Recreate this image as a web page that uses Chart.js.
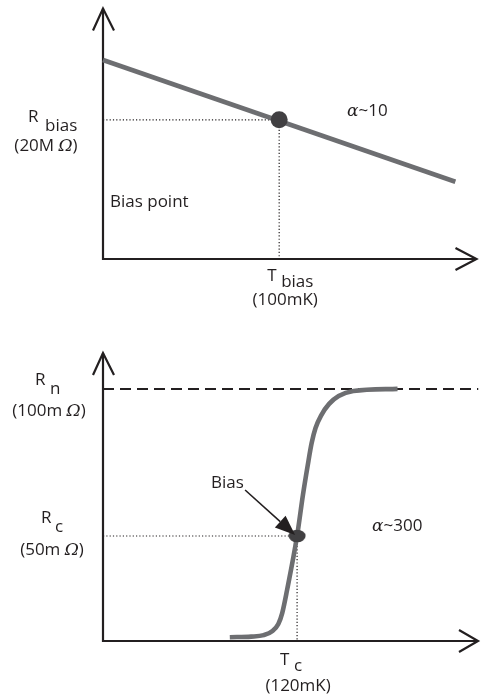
<!DOCTYPE html>
<html>
<head>
<meta charset="utf-8">
<script src="https://cdn.jsdelivr.net/npm/chart.js@4/dist/chart.umd.min.js"></script>
<style>
  html, body { margin: 0; padding: 0; background: #ffffff; }
  #wrap { position: relative; width: 485px; height: 696px; }
  #topPanel { position: absolute; left: 0; top: 0; }
  #tesPanel { position: absolute; left: 0; top: 330px; }
</style>
</head>
<body>
<div id="wrap">
  <canvas id="topPanel" width="485" height="330"></canvas>
  <canvas id="tesPanel" width="485" height="366"></canvas>
</div>
<script>
// ---- Upper panel: resistance falling slowly with temperature (alpha ~ 10) ----
const slopeTemps = [0, 200];        // mK
const slopeRes = [28.6, 11.1];      // MOhm
const biasTemp = 100;               // mK
const biasRes = 20;                 // MOhm
const slopeTempRange = [0, 212];
const slopeResRange = [0, 36];

// ---- Lower panel: superconducting transition (alpha ~ 300) ----
const tesTemps = [78.4, 91.6, 99.4, 104.8, 108.4, 110.8, 113.8, 120.0, 123.6, 126.6, 129.0, 131.4, 135.0, 139.8, 145.7, 154.8, 182.1]; // mK
const tesRes   = [15.6, 15.8, 16.3, 17.7, 20.1, 23.8, 31.6, 50.0, 63.9, 74.1, 81.6, 86.7, 91.1, 94.9, 97.6, 99.3, 100.0];      // mOhm
const normalRes = 100;              // mOhm
const critRes = 50;                 // mOhm
const critTemp = 120;               // mK
const tesTempRange = [0, 230];
const tesResRange = [14.3, 112.2];

const INK = '#231f20';
const CURVE = '#6d6e71';
const DOT = '#414042';
const FONT = "17px 'Open Sans', 'Noto Sans', sans-serif";
const FONT_IT = "italic 17px 'DejaVu Serif', 'Liberation Serif', serif";

function pts(xs, ys) { return xs.map((x, i) => ({ x: x, y: ys[i] })); }

// Text made of plain / italic runs, anchored left or centre on a baseline
function drawRuns(ctx, runs, x, y, align) {
  let total = 0;
  runs.forEach(r => { ctx.font = r.it ? FONT_IT : FONT; r.w = ctx.measureText(r.t).width; total += r.w; });
  let cx = align === 'center' ? x - total / 2 : x;
  ctx.textBaseline = 'alphabetic';
  ctx.textAlign = 'left';
  runs.forEach(r => { ctx.font = r.it ? FONT_IT : FONT; ctx.fillText(r.t, cx, y); cx += r.w; });
}

function drawAxes(ctx, area, xTipExtra, xArrowBack, yArrowBack) {
  ctx.save();
  ctx.strokeStyle = INK;
  ctx.lineWidth = 2.2;
  ctx.lineCap = 'butt';
  ctx.lineJoin = 'miter';
  ctx.beginPath();
  ctx.moveTo(area.left, area.top);
  ctx.lineTo(area.left, area.bottom);
  ctx.lineTo(area.right + xTipExtra, area.bottom);
  ctx.stroke();
  // y arrowhead
  ctx.beginPath();
  ctx.moveTo(area.left - 10, area.top + yArrowBack);
  ctx.lineTo(area.left, area.top);
  ctx.lineTo(area.left + 11, area.top + yArrowBack);
  ctx.stroke();
  // x arrowhead
  const tip = area.right + xTipExtra;
  ctx.beginPath();
  ctx.moveTo(tip - xArrowBack, area.bottom - 11);
  ctx.lineTo(tip, area.bottom);
  ctx.lineTo(tip - xArrowBack, area.bottom + 11);
  ctx.stroke();
  ctx.restore();
}

const baseOptions = (xr, yr, pad) => ({
  responsive: false,
  animation: false,
  events: [],
  layout: { padding: pad },
  plugins: { legend: { display: false }, tooltip: { enabled: false } },
  scales: {
    x: { type: 'linear', display: false, min: xr[0], max: xr[1] },
    y: { type: 'linear', display: false, min: yr[0], max: yr[1] }
  }
});

const dotted = { borderColor: INK, borderWidth: 1.2, borderDash: [1.2, 2.1], pointRadius: 0, fill: false, clip: false, order: 3 };

// ---------- upper chart ----------
const slopePlugin = {
  id: 'slopeDecor',
  beforeDatasetsDraw(chart) {
    drawAxes(chart.ctx, chart.chartArea, 0, 21, 22);
  },
  afterDraw(chart) {
    const ctx = chart.ctx, a = chart.chartArea;
    const xs = chart.scales.x, ys = chart.scales.y;
    const yb = ys.getPixelForValue(biasRes);
    const xb = xs.getPixelForValue(biasTemp);
    ctx.save();
    ctx.fillStyle = INK;
    drawRuns(ctx, [{ t: 'R' }], 28, yb + 2);
    drawRuns(ctx, [{ t: 'bias' }], 45, yb + 11);
    drawRuns(ctx, [{ t: '(20M ' }, { t: 'Ω', it: true }, { t: ')' }], 46, yb + 31, 'center');
    drawRuns(ctx, [{ t: 'T' }], xb - 12, a.bottom + 22);
    drawRuns(ctx, [{ t: 'bias' }], xb + 2, a.bottom + 28);
    drawRuns(ctx, [{ t: '(100mK)' }], xb + 6, a.bottom + 46, 'center');
    drawRuns(ctx, [{ t: 'α', it: true }, { t: '~10' }], 347, 116);
    drawRuns(ctx, [{ t: 'Bias point' }], 110, 207);
    ctx.restore();
  }
};

new Chart(document.getElementById('topPanel'), {
  type: 'line',
  data: {
    datasets: [
      Object.assign({ data: [{ x: slopeTempRange[0], y: biasRes }, { x: biasTemp, y: biasRes }] }, dotted),
      Object.assign({ data: [{ x: biasTemp, y: biasRes }, { x: biasTemp, y: slopeResRange[0] }] }, dotted),
      { data: pts(slopeTemps, slopeRes), borderColor: CURVE, borderWidth: 4.6, pointRadius: 0, fill: false, clip: false, borderCapStyle: 'butt', order: 2 },
      { data: [{ x: biasTemp, y: biasRes }], showLine: false, pointRadius: 8.5, pointBackgroundColor: DOT, pointBorderWidth: 0, borderColor: DOT, clip: false, order: 1 }
    ]
  },
  options: baseOptions(slopeTempRange, slopeResRange, { left: 103, top: 6, right: 4, bottom: 71 }),
  plugins: [slopePlugin]
});

// ---------- lower chart ----------
function ellipseMarker() {
  const c = document.createElement('canvas');
  c.width = 18; c.height = 14;
  const g = c.getContext('2d');
  g.fillStyle = DOT;
  g.beginPath();
  g.ellipse(9, 7, 8.5, 6.3, 0, 0, Math.PI * 2);
  g.fill();
  return c;
}

const tesPlugin = {
  id: 'tesDecor',
  beforeDatasetsDraw(chart) {
    drawAxes(chart.ctx, chart.chartArea, 3, 19, 22);
  },
  afterDraw(chart) {
    const ctx = chart.ctx, a = chart.chartArea;
    const xs = chart.scales.x, ys = chart.scales.y;
    const yn = ys.getPixelForValue(normalRes);
    const yc = ys.getPixelForValue(critRes);
    const xc = xs.getPixelForValue(critTemp);
    ctx.save();
    ctx.fillStyle = INK;
    drawRuns(ctx, [{ t: 'R' }], 35, yn - 4);
    drawRuns(ctx, [{ t: 'n' }], 50, yn + 5);
    drawRuns(ctx, [{ t: '(100m ' }, { t: 'Ω', it: true }, { t: ')' }], 49, yn + 27, 'center');
    drawRuns(ctx, [{ t: 'R' }], 41, yc - 13);
    drawRuns(ctx, [{ t: 'c' }], 55, yc - 4);
    drawRuns(ctx, [{ t: '(50m ' }, { t: 'Ω', it: true }, { t: ')' }], 52, yc + 19, 'center');
    drawRuns(ctx, [{ t: 'T' }], xc - 17, a.bottom + 24);
    drawRuns(ctx, [{ t: 'c' }], xc - 3, a.bottom + 30);
    drawRuns(ctx, [{ t: '(120mK)' }], xc + 1, a.bottom + 50, 'center');
    drawRuns(ctx, [{ t: 'α', it: true }, { t: '~300' }], 372, yc - 5);
    drawRuns(ctx, [{ t: 'Bias' }], 211, yc - 48);

    // pointer from the "Bias" note to the operating point
    const tipX = xc - 2, tipY = yc - 1;
    const sx = tipX - 50, sy = tipY - 45;
    const dx = tipX - sx, dy = tipY - sy, len = Math.hypot(dx, dy);
    const ux = dx / len, uy = dy / len;
    const bx = tipX - 20 * ux, by = tipY - 20 * uy;
    ctx.strokeStyle = INK;
    ctx.lineWidth = 1.6;
    ctx.beginPath();
    ctx.moveTo(sx, sy);
    ctx.lineTo(bx, by);
    ctx.stroke();
    ctx.beginPath();
    ctx.moveTo(tipX, tipY);
    ctx.lineTo(bx - 8 * uy, by + 8 * ux);
    ctx.lineTo(bx + 8 * uy, by - 8 * ux);
    ctx.closePath();
    ctx.fill();
    ctx.restore();
  }
};

new Chart(document.getElementById('tesPanel'), {
  type: 'line',
  data: {
    datasets: [
      { data: [{ x: tesTempRange[0], y: normalRes }, { x: tesTempRange[1] + 2, y: normalRes }], borderColor: INK, borderWidth: 2, borderDash: [11, 6], pointRadius: 0, fill: false, clip: false, order: 4 },
      Object.assign({ data: [{ x: tesTempRange[0], y: critRes }, { x: critTemp, y: critRes }] }, dotted),
      Object.assign({ data: [{ x: critTemp, y: critRes }, { x: critTemp, y: tesResRange[0] }] }, dotted),
      { data: pts(tesTemps, tesRes), borderColor: CURVE, borderWidth: 4.6, cubicInterpolationMode: 'monotone', pointRadius: 0, fill: false, clip: false, borderCapStyle: 'butt', order: 2 },
      { data: [{ x: critTemp, y: critRes }], showLine: false, pointStyle: ellipseMarker(), pointRadius: 9, borderColor: DOT, clip: false, order: 1 }
    ]
  },
  options: baseOptions(tesTempRange, tesResRange, { left: 103, top: 23, right: 0, bottom: 55 }),
  plugins: [tesPlugin]
});
</script>
</body>
</html>
